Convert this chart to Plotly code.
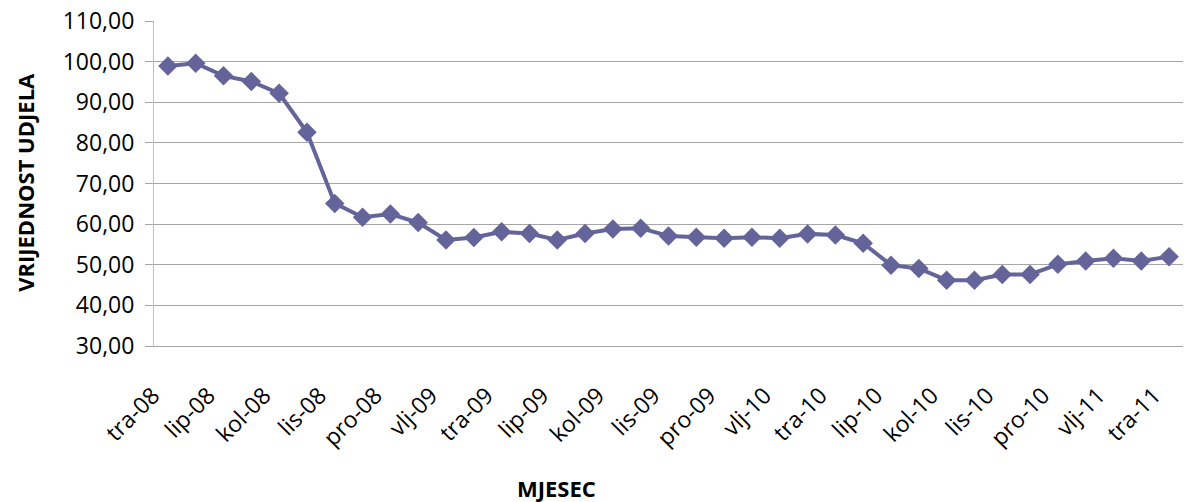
import plotly.graph_objects as go

months = ["tra-08", "svi-08", "lip-08", "srp-08", "kol-08", "ruj-08", "lis-08", "stu-08", "pro-08",
          "sij-09", "vlj-09", "ožu-09", "tra-09", "svi-09", "lip-09", "srp-09", "kol-09", "ruj-09",
          "lis-09", "stu-09", "pro-09", "sij-10", "vlj-10", "ožu-10", "tra-10", "svi-10", "lip-10",
          "srp-10", "kol-10", "ruj-10", "lis-10", "stu-10", "pro-10", "sij-11", "vlj-11", "ožu-11",
          "tra-11"]

values = [98.9, 99.6, 96.5, 95.1, 92.2, 82.6, 65.1, 61.7, 62.5, 60.4,
          56.1, 56.7, 58.1, 57.7, 56.1, 57.7, 58.8, 59.0, 57.1, 56.8,
          56.5, 56.8, 56.5, 57.6, 57.3, 55.3, 49.9, 49.1, 46.2, 46.2,
          47.6, 47.6, 50.1, 50.9, 51.6, 50.9, 52.0]

tick_labels = months[::2]
y_ticks = [30, 40, 50, 60, 70, 80, 90, 100, 110]

color = "rgb(100,100,155)"
font_family = "Open Sans, Liberation Sans, sans-serif"

fig = go.Figure()
fig.add_trace(go.Scatter(
    x=list(range(len(values))), y=values, mode="lines+markers",
    line=dict(color=color, width=4),
    marker=dict(symbol="diamond", size=15, color=color),
    showlegend=False,
))

fig.update_layout(
    width=1193, height=502,
    margin=dict(l=154, r=10, t=21, b=156),
    paper_bgcolor="white", plot_bgcolor="white",
    separators=",.",
    font=dict(family=font_family, color="black"),
    xaxis=dict(
        range=[-0.5, len(values) - 0.5],
        tickmode="array",
        tickvals=list(range(0, len(values), 2)),
        ticktext=tick_labels,
        tickangle=-45,
        tickfont=dict(size=23),
        showgrid=False, zeroline=False,
        showline=True, linecolor="#A6A6A6", linewidth=1,
        ticklabelstandoff=26,
        ticklabelshift=-15,
        ticklabeloverflow="allow",
        automargin=False,
    ),
    yaxis=dict(
        range=[30, 110],
        tickmode="array", tickvals=y_ticks,
        tickformat=".2f",
        tickfont=dict(size=23),
        showgrid=True, gridcolor="#A6A6A6", gridwidth=1,
        zeroline=False,
        showline=True, linecolor="#C0C0C0", linewidth=1,
        ticks="outside", ticklen=8, tickcolor="#A6A6A6",
        ticklabelstandoff=6,
        ticklabeloverflow="allow",
        automargin=False,
    ),
    annotations=[
        dict(text="<b>VRIJEDNOST UDJELA</b>", xref="paper", yref="paper",
             x=-0.1254, y=0.505, textangle=-90, showarrow=False,
             font=dict(size=22), xanchor="center", yanchor="middle"),
        dict(text="<b>MJESEC</b>", xref="paper", yref="paper",
             x=0.3916, y=-0.437, showarrow=False,
             font=dict(size=22), xanchor="center", yanchor="middle"),
    ],
)

fig.write_html("out.html", config={"displayModeBar": False},
               post_script="document.body.style.margin='0';")
